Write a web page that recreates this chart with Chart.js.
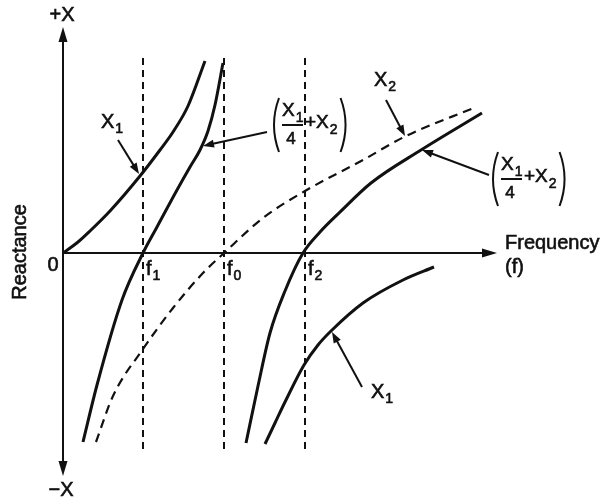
<!DOCTYPE html>
<html>
<head>
<meta charset="utf-8">
<script src="https://cdn.jsdelivr.net/npm/chart.js@4.4.1/dist/chart.umd.min.js"></script>
<style>
html, body { margin: 0; padding: 0; background: #fff; }
#wrap { width: 609px; height: 504px; }
</style>
</head>
<body>
<div id="wrap"><canvas id="reactance-chart" width="609" height="504"></canvas></div>
<script>
// marked frequencies f1, f0, f2 (frequency axis units)
const markFreqs = [80, 161, 242];
const markSubs = ['1', '0', '2'];
const markTop = 195;
const markBottom = -196;

// X1, branch rising from the origin
const x1aFreq = [0, 15, 27, 47, 77, 97, 110, 125, 142];
const x1aReact = [0, 11, 22, 42, 77, 103, 121, 147, 192];

// X1, branch coming back up from -X
const x1bFreq = [202, 212, 222, 241, 255, 268, 300, 340, 371];
const x1bReact = [-191, -170, -149, -112, -92, -78, -50, -27, -14];

// X2 (dashed)
const x2Freq = [33, 50, 80, 110, 140, 161, 200, 242, 300, 341, 413];
const x2React = [-189, -143, -96, -55, -20, 0, 35, 62, 93, 116, 146];

// X1/4 + X2, first branch (zero at f1)
const sumAFreq = [20, 34, 59, 80, 94, 114, 127, 137, 145, 152, 160];
const sumAReact = [-189, -132, -47, 0, 26, 63, 86, 103, 122, 148, 190];

// X1/4 + X2, second branch (zero at f2)
const sumBFreq = [183, 195, 207, 222, 240, 257, 276, 308, 358, 419];
const sumBReact = [-190, -133, -80, -38, 0, 21, 40, 70, 103, 140];

const INK = '#111';
const FONT = '"Liberation Sans", Arial, Helvetica, sans-serif';

function pts(xs, ys) {
    return xs.map((x, i) => ({ x: x, y: ys[i] }));
}

function curve(xs, ys, dashed) {
    return {
        data: pts(xs, ys),
        borderColor: INK,
        borderWidth: dashed ? 2.2 : 3,
        borderDash: dashed ? [9, 6] : [],
        pointRadius: 0,
        showLine: true,
        fill: false,
        cubicInterpolationMode: 'monotone'
    };
}

const datasets = [];
markFreqs.forEach(f => {
    datasets.push({
        data: [{ x: f, y: markBottom }, { x: f, y: markTop }],
        borderColor: INK,
        borderWidth: 2,
        borderDash: [7, 5],
        pointRadius: 0,
        showLine: true
    });
});
datasets.push(curve(x2Freq, x2React, true));
datasets.push(curve(x1aFreq, x1aReact, false));
datasets.push(curve(x1bFreq, x1bReact, false));
datasets.push(curve(sumAFreq, sumAReact, false));
datasets.push(curve(sumBFreq, sumBReact, false));

// filled text with a hairline outline so it reads a little heavier
function txt(ctx, s, x, y) {
    ctx.fillText(s, x, y);
    ctx.save();
    ctx.lineWidth = 0.6;
    ctx.strokeText(s, x, y);
    ctx.restore();
}

// text with a subscript, vertical middle at y
function drawSub(ctx, main, sub, x, y, size) {
    ctx.textAlign = 'left';
    ctx.textBaseline = 'middle';
    ctx.font = size + 'px ' + FONT;
    txt(ctx, main, x, y);
    const w = ctx.measureText(main).width;
    ctx.font = Math.round(size * 0.72) + 'px ' + FONT;
    txt(ctx, sub, x + w + 1, y + size * 0.38);
    return w + 1 + ctx.measureText(sub).width;
}

function drawArrow(ctx, x0, y0, x1, y1, len, half) {
    const a = Math.atan2(y1 - y0, x1 - x0);
    ctx.beginPath();
    ctx.moveTo(x0, y0);
    ctx.lineTo(x1 - Math.cos(a) * len * 0.6, y1 - Math.sin(a) * len * 0.6);
    ctx.stroke();
    ctx.beginPath();
    ctx.moveTo(x1, y1);
    ctx.lineTo(x1 - Math.cos(a) * len - Math.sin(a) * half, y1 - Math.sin(a) * len + Math.cos(a) * half);
    ctx.lineTo(x1 - Math.cos(a) * len + Math.sin(a) * half, y1 - Math.sin(a) * len - Math.cos(a) * half);
    ctx.closePath();
    ctx.fill();
}

// (X1/4 + X2) label, x = left edge, y = vertical middle
function drawFraction(ctx, x, y) {
    ctx.lineWidth = 2;
    ctx.beginPath();
    ctx.moveTo(x + 7, y - 27);
    ctx.quadraticCurveTo(x - 3, y, x + 7, y + 27);
    ctx.stroke();
    drawSub(ctx, 'X', '1', x + 10, y - 14, 19);
    ctx.lineWidth = 2;
    ctx.beginPath();
    ctx.moveTo(x + 10, y);
    ctx.lineTo(x + 31, y);
    ctx.stroke();
    ctx.font = '17px ' + FONT;
    ctx.textAlign = 'center';
    txt(ctx, '4', x + 19, y + 14);
    const w = drawSub(ctx, '+X', '2', x + 33, y - 2, 19);
    const r = x + 33 + w + 3;
    ctx.lineWidth = 2;
    ctx.beginPath();
    ctx.moveTo(r, y - 27);
    ctx.quadraticCurveTo(r + 10, y, r, y + 27);
    ctx.stroke();
}

const annotate = {
    id: 'annotate',
    afterDatasetsDraw(chart) {
        const ctx = chart.ctx;
        const xs = chart.scales.x, ys = chart.scales.y;
        const px = v => xs.getPixelForValue(v);
        const py = v => ys.getPixelForValue(v);
        const area = chart.chartArea;
        ctx.save();
        ctx.strokeStyle = INK;
        ctx.fillStyle = INK;

        // axes through the origin
        ctx.lineWidth = 2;
        ctx.beginPath();
        ctx.moveTo(px(0), area.top + 10);
        ctx.lineTo(px(0), area.bottom - 10);
        ctx.moveTo(px(0), py(0));
        ctx.lineTo(area.right - 10, py(0));
        ctx.stroke();
        drawArrow(ctx, px(0), py(0), px(0), area.top, 15, 4.5);
        drawArrow(ctx, px(0), py(0), px(0), area.bottom, 15, 4.5);
        drawArrow(ctx, px(0), py(0), area.right, py(0), 15, 4.5);

        ctx.font = '20px ' + FONT;
        ctx.textBaseline = 'middle';
        ctx.textAlign = 'center';
        txt(ctx, '+X', px(-1), py(238));
        txt(ctx, '\u2212X', px(-2), py(-237));
        txt(ctx, '0', px(-10), py(-12));

        ctx.save();
        ctx.translate(px(-43), py(1));
        ctx.rotate(-Math.PI / 2);
        txt(ctx, 'Reactance', 0, 0);
        ctx.restore();

        ctx.textAlign = 'left';
        txt(ctx, 'Frequency', px(442), py(10));
        txt(ctx, '(f)', px(442), py(-14));

        markFreqs.forEach((f, i) => {
            drawSub(ctx, 'f', markSubs[i], px(f + 3), py(-16), 20);
        });

        // curve callouts
        ctx.lineWidth = 2;
        drawSub(ctx, 'X', '1', px(38), py(131), 20);
        ctx.lineWidth = 2;
        drawArrow(ctx, px(55), py(113), px(76), py(79), 11, 4);

        drawFraction(ctx, px(209), py(128));
        ctx.lineWidth = 2;
        drawArrow(ctx, px(204), py(121), px(140), py(107), 11, 4);

        drawSub(ctx, 'X', '2', px(311), py(173), 20);
        ctx.lineWidth = 2;
        drawArrow(ctx, px(323), py(153), px(342), py(117), 11, 4);

        drawFraction(ctx, px(428), py(74));
        ctx.lineWidth = 2;
        drawArrow(ctx, px(426), py(78), px(359), py(103), 11, 4);

        drawSub(ctx, 'X', '1', px(308), py(-139), 20);
        ctx.lineWidth = 2;
        drawArrow(ctx, px(299), py(-134), px(269), py(-79), 11, 4);

        ctx.restore();
    }
};

new Chart(document.getElementById('reactance-chart'), {
    type: 'scatter',
    data: { datasets: datasets },
    options: {
        responsive: false,
        animation: false,
        devicePixelRatio: 1,
        layout: { padding: { left: 63, right: 112, top: 27, bottom: 28 } },
        plugins: { legend: { display: false }, tooltip: { enabled: false } },
        scales: {
            x: { type: 'linear', min: 0, max: 434, display: false },
            y: { type: 'linear', min: -223, max: 226, display: false }
        }
    },
    plugins: [annotate]
});
</script>
</body>
</html>
